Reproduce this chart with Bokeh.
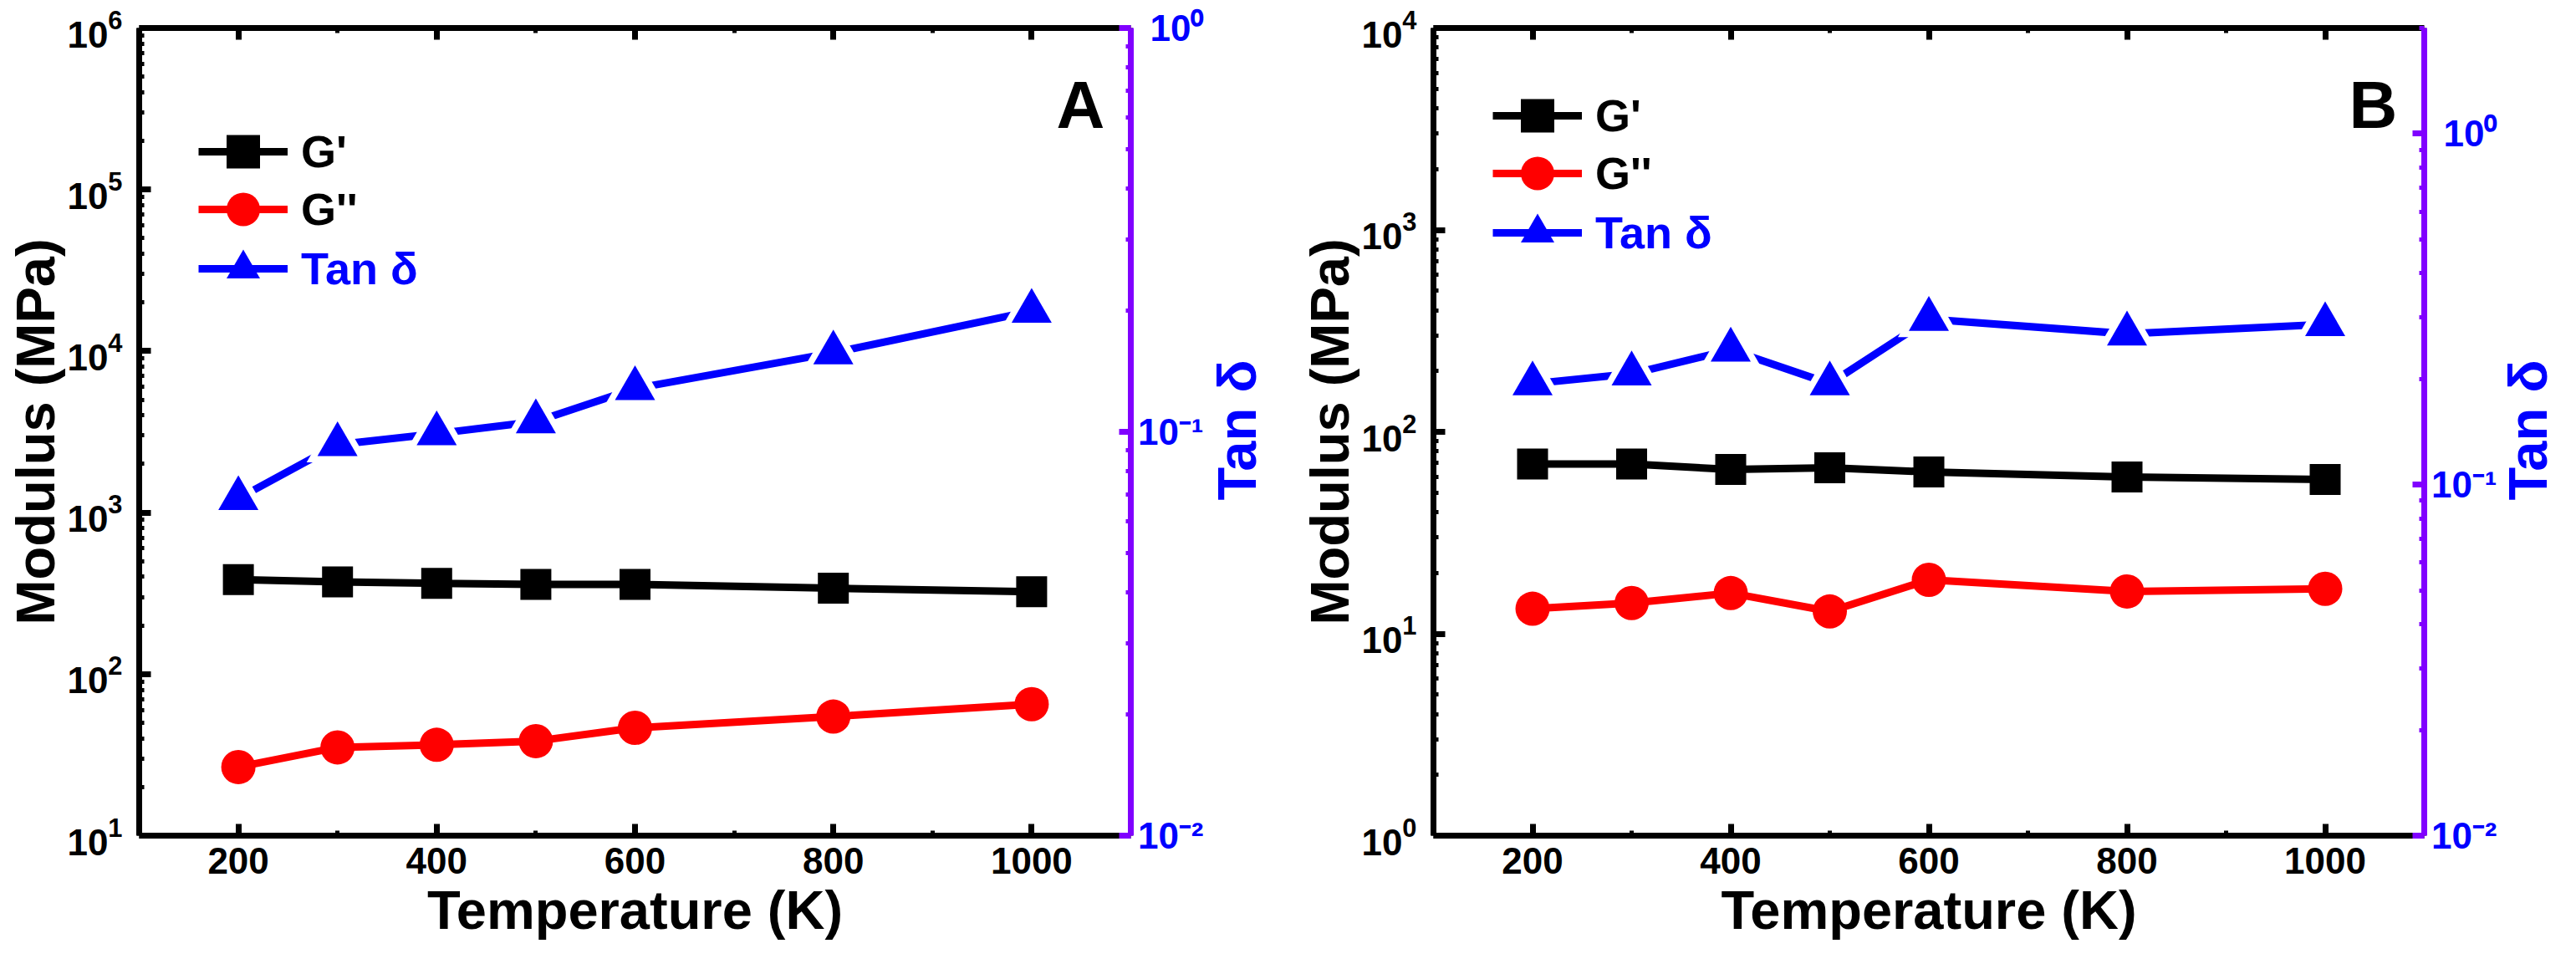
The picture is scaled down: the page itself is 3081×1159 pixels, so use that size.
import math
from bokeh.plotting import figure
from bokeh.models import (Range1d, LogScale, LogAxis, LinearAxis, FixedTicker,
                          SingleIntervalTicker, LogTickFormatter, Legend, LegendItem,
                          Label, CustomLabelingPolicy, CustomJSTickFormatter)
from bokeh.layouts import row
from bokeh.embed import file_html
from bokeh.resources import INLINE

# ---------------- data ----------------
temperature = [200, 300, 400, 500, 600, 800, 1000]

g_storage_a = [385, 372, 365, 359, 359, 340, 324]
g_loss_a = [26.6, 35.2, 36.5, 38.5, 46.5, 54.6, 65.2]
tan_delta_a = [0.0684, 0.093, 0.099, 0.106, 0.128, 0.157, 0.199]

g_storage_b = [69.2, 69.2, 65.1, 66.4, 63.3, 59.7, 58.1]
g_loss_b = [13.3, 14.2, 15.9, 12.9, 18.5, 16.2, 16.7]
tan_delta_b = [0.194, 0.207, 0.242, 0.194, 0.296, 0.269, 0.286]

x_ticks = [200, 400, 600, 800, 1000]
mod_ticks_a = [1e1, 1e2, 1e3, 1e4, 1e5, 1e6]
mod_ticks_b = [1e0, 1e1, 1e2, 1e3, 1e4]
tan_ticks = [1e-2, 1e-1, 1e0]

series_labels = ["G'", "G''", "Tan \u03b4"]
x_title = "Temperature (K)"
y_title = "Modulus (MPa)"
y2_title = "Tan \u03b4"

FONT = "Liberation Sans"
BLACK = "#000000"
RED = "#FF0000"
BLUE = "#0000FF"
PURPLE = "#8000FF"

H = 1143
TOP = 33
BOTTOM = 144

SUP_JS = """
const sup = {"0":"\u2070","1":"\u00b9","2":"\u00b2","3":"\u00b3","4":"\u2074",
             "5":"\u2075","6":"\u2076","7":"\u2077","8":"\u2078","9":"\u2079","-":"\u207b"};
const e = Math.round(Math.log10(tick));
return "10" + String(e).split("").map((c) => sup[c]).join("");
"""


def minor_of(majors):
    out = []
    for m in majors:
        for k in range(2, 10):
            out.append(m * k)
    return out


def style_axis(ax, color, label_color, tick_len=14):
    ax.axis_line_color = color
    ax.axis_line_width = 7
    ax.major_tick_line_color = color
    ax.major_tick_line_width = 7
    ax.major_tick_in = tick_len
    ax.major_tick_out = 0
    ax.minor_tick_line_color = color
    ax.minor_tick_line_width = 5
    ax.minor_tick_in = 6
    ax.minor_tick_out = 0
    ax.major_label_text_font = FONT
    ax.major_label_text_font_size = "44px"
    ax.major_label_text_font_style = "bold"
    ax.major_label_text_color = label_color
    ax.axis_label_text_font = FONT
    ax.axis_label_text_font_size = "65px"
    ax.axis_label_text_font_style = "bold"
    ax.axis_label_text_color = label_color


def hide_labels(ax):
    ax.major_label_text_font_size = "1px"
    ax.major_label_standoff = 0
    ax.major_label_policy = CustomLabelingPolicy(code="return new Set()")


def make_panel(tag, g1, g2, tan, mod_ticks, tan_top, border_left, frame_w,
               border_right, leg_locs, tag_x):
    p = figure(width=border_left + frame_w + border_right, height=H,
               y_axis_type="log",
               x_range=Range1d(100, 1100),
               y_range=Range1d(mod_ticks[0], mod_ticks[-1]),
               output_backend="svg", toolbar_location=None,
               min_border_left=border_left, min_border_right=border_right,
               min_border_top=TOP, min_border_bottom=BOTTOM)
    p.extra_y_ranges = {"tan": Range1d(0.01, tan_top)}
    p.extra_y_scales = {"tan": LogScale()}
    p.outline_line_color = None
    p.xgrid.visible = False
    p.ygrid.visible = False
    p.background_fill_color = "white"
    p.border_fill_color = "white"

    # bottom axis
    xa = p.xaxis[0]
    xa.ticker = SingleIntervalTicker(interval=200, num_minor_ticks=2)
    xa.axis_label = x_title
    style_axis(xa, BLACK, BLACK)
    xa.major_label_standoff = 14
    xa.axis_label_standoff = 4

    # top axis (ticks only)
    top = LinearAxis(ticker=SingleIntervalTicker(interval=200, num_minor_ticks=2))
    style_axis(top, BLACK, BLACK)
    hide_labels(top)
    p.add_layout(top, "above")

    # left axis
    ya = p.yaxis[0]
    ya.ticker = FixedTicker(ticks=mod_ticks, minor_ticks=minor_of(mod_ticks))
    ya.formatter = LogTickFormatter()
    ya.axis_label = y_title
    style_axis(ya, BLACK, BLACK)
    ya.major_label_standoff = 20
    ya.axis_label_standoff = -2

    # right axis: purple line and ticks (labels and title live in the strip beside)
    ra = LogAxis(y_range_name="tan",
                 ticker=FixedTicker(ticks=tan_ticks, minor_ticks=minor_of(tan_ticks)))
    style_axis(ra, PURPLE, BLUE)
    hide_labels(ra)
    p.add_layout(ra, "right")

    # series
    l1 = p.line(temperature, g1, line_color=BLACK, line_width=9)
    s1 = p.scatter(temperature, g1, marker="square", size=37,
                   fill_color=BLACK, line_color=None)
    l2 = p.line(temperature, g2, line_color=RED, line_width=9)
    s2 = p.scatter(temperature, g2, marker="circle", size=41,
                   fill_color=RED, line_color=None)
    l3 = p.line(temperature, tan, line_color=BLUE, line_width=9, y_range_name="tan")
    p.scatter(temperature, tan, marker="triangle", size=74, fill_color="white",
              line_color=None, y_range_name="tan")
    s3 = p.scatter(temperature, tan, marker="triangle", size=48,
                   fill_color=BLUE, line_color=None, y_range_name="tan")

    def legend(item, loc, color):
        lg = Legend(items=[item], location=loc, orientation="vertical",
                    glyph_width=107, glyph_height=100, label_height=100,
                    label_standoff=16, spacing=0, padding=0, margin=0,
                    border_line_color=None, background_fill_alpha=0,
                    label_text_font=FONT, label_text_font_size="54px",
                    label_text_font_style="bold", label_text_color=color)
        p.add_layout(lg, "center")

    legend(LegendItem(label=series_labels[0], renderers=[l1, s1]), leg_locs[0], BLACK)
    legend(LegendItem(label=series_labels[1], renderers=[l2, s2]), leg_locs[1], BLACK)
    legend(LegendItem(label=series_labels[2], renderers=[l3, s3]), leg_locs[2], BLUE)

    p.add_layout(Label(x=tag_x, y=874, x_units="screen", y_units="screen",
                       text=tag, text_font=FONT, text_font_size="80px",
                       text_font_style="bold", text_color=BLACK,
                       text_align="center", text_baseline="alphabetic"))
    return p


def tan_strip(width, label_border, tan_top, title_x):
    """Strip right of a panel: Tan delta tick labels and the rotated Tan delta title."""
    s = figure(width=width, height=H, y_axis_type="log",
               x_range=Range1d(0, 1), y_range=Range1d(0.01, tan_top),
               output_backend="svg", toolbar_location=None,
               min_border_left=label_border, min_border_right=0,
               min_border_top=TOP, min_border_bottom=BOTTOM)
    s.xaxis.visible = False
    s.xgrid.visible = False
    s.ygrid.visible = False
    s.outline_line_color = None
    s.background_fill_color = "white"
    s.border_fill_color = "white"
    ax = s.yaxis[0]
    ax.ticker = FixedTicker(ticks=tan_ticks)
    ax.formatter = CustomJSTickFormatter(code=SUP_JS)
    style_axis(ax, None, BLUE)
    ax.major_tick_line_color = None
    ax.minor_tick_line_color = None
    ax.axis_line_color = None
    ax.major_label_standoff = 2
    s.add_layout(Label(x=title_x, y=485, x_units="screen", y_units="screen",
                       text=y2_title, angle=math.pi / 2,
                       text_font=FONT, text_font_size="65px",
                       text_font_style="bold", text_color=BLUE,
                       text_align="center", text_baseline="middle"))
    return s


wa = 166 + 1187 + 4
pa = make_panel("A", g_storage_a, g_loss_a, tan_delta_a, mod_ticks_a, 1.0,
                166, 1187, 4, [(71, 768), (71, 699), (71, 628)], 1126)
sa = tan_strip(1532 - wa, 81, 1.0, 38)

wb = 182 + 1186 + 4
pb = make_panel("B", g_storage_b, g_loss_b, tan_delta_b, mod_ticks_b, 2.0,
                182, 1186, 4, [(71, 811), (71, 742), (71, 671)], 1124)
sb = tan_strip(1532 - wb, 78, 2.0, 35)

layout = row(pa, sa, pb, sb)
open("out.html", "w").write(file_html(layout, INLINE))
